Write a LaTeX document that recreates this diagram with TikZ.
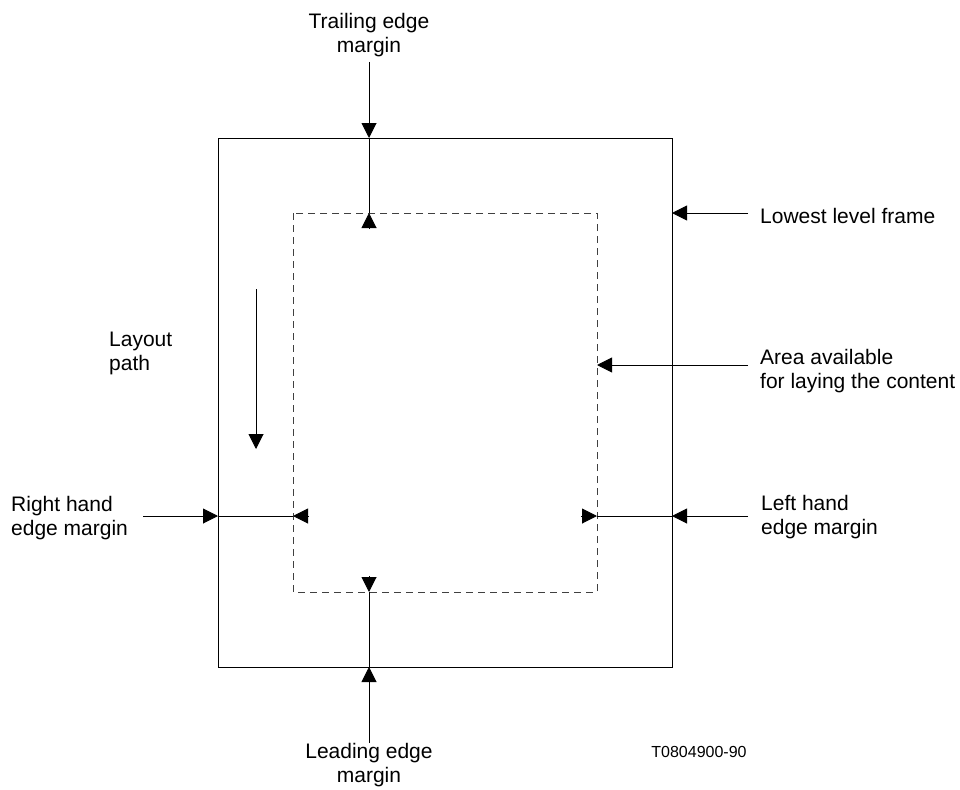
\documentclass[tikz,border=0pt]{standalone}
\usepackage{fontspec}
\setmainfont{Liberation Sans}
\usetikzlibrary{arrows.meta}
\begin{document}
\begin{tikzpicture}[x=1pt,y=-1pt,
  ln/.style={line width=1pt,black},
  arr/.style={line width=1pt,black,-{Triangle[length=15pt,width=15pt]}},
  dsh/.style={line width=1pt,black!75,dash pattern=on 7pt off 5pt},
  lbl/.style={inner sep=0pt,font=\fontsize{21}{24}\selectfont},
  ref/.style={inner sep=0pt,font=\fontsize{16}{19}\selectfont}]
\useasboundingbox[fill=white] (0,0) rectangle (960,789);
% frames
\draw[ln] (218,138) rectangle (672,667);
\draw[dsh] (293,213) rectangle (597,592);
% coordinates
\coordinate (ttop) at (369,62);
\coordinate (tframe) at (369,138);
\coordinate (tarea) at (369,213);
\coordinate (tin) at (369,229);
\coordinate (lbot) at (369,743);
\coordinate (lframe) at (369,667);
\coordinate (larea) at (369,592);
\coordinate (lin) at (369,576);
\coordinate (rout) at (143,516);
\coordinate (rframe) at (218,516);
\coordinate (rarea) at (293,516);
\coordinate (rin) at (309,516);
\coordinate (hout) at (748,516);
\coordinate (hframe) at (672,516);
\coordinate (harea) at (597,516);
\coordinate (hin) at (581,516);
\coordinate (fout) at (748,213);
\coordinate (fframe) at (672,213);
\coordinate (aout) at (748,365);
\coordinate (aarea) at (597,365);
\coordinate (pstart) at (256,289);
\coordinate (pend) at (256,449);
% labels
\node[lbl,align=center] (trail) at (369,35.5) {Trailing edge\\margin};
\node[lbl,align=center] (lead) at (369,765) {Leading edge\\margin};
\node[lbl,anchor=base west] (lowest) at (760,223) {Lowest level frame};
\node[lbl,align=left,anchor=north west] (area) at (760,349.5) {Area available\\for laying the content};
\node[lbl,align=left,anchor=north west] (lefth) at (761,495) {Left hand\\edge margin};
\node[lbl,align=left,anchor=north west] (righth) at (11,496) {Right hand\\edge margin};
\node[lbl,align=left,anchor=north west] (layout) at (109,332) {Layout\\path};
\node[ref] (code) at (699,752) {T0804900-90};
% trailing edge margin
\draw[arr] (ttop) -- (tframe);
\draw[ln] (tframe) -- (tarea);
\draw[arr] (tin) -- (tarea);
% leading edge margin
\draw[arr] (lbot) -- (lframe);
\draw[ln] (lframe) -- (larea);
\draw[arr] (lin) -- (larea);
% right hand edge margin
\draw[arr] (rout) -- (rframe);
\draw[ln] (rframe) -- (rarea);
\draw[arr] (rin) -- (rarea);
% left hand edge margin
\draw[arr] (hout) -- (hframe);
\draw[ln] (hframe) -- (harea);
\draw[arr] (hin) -- (harea);
% lowest level frame
\draw[arr] (fout) -- (fframe);
% area available
\draw[arr] (aout) -- (aarea);
% layout path
\draw[arr] (pstart) -- (pend);
\end{tikzpicture}
\end{document}
